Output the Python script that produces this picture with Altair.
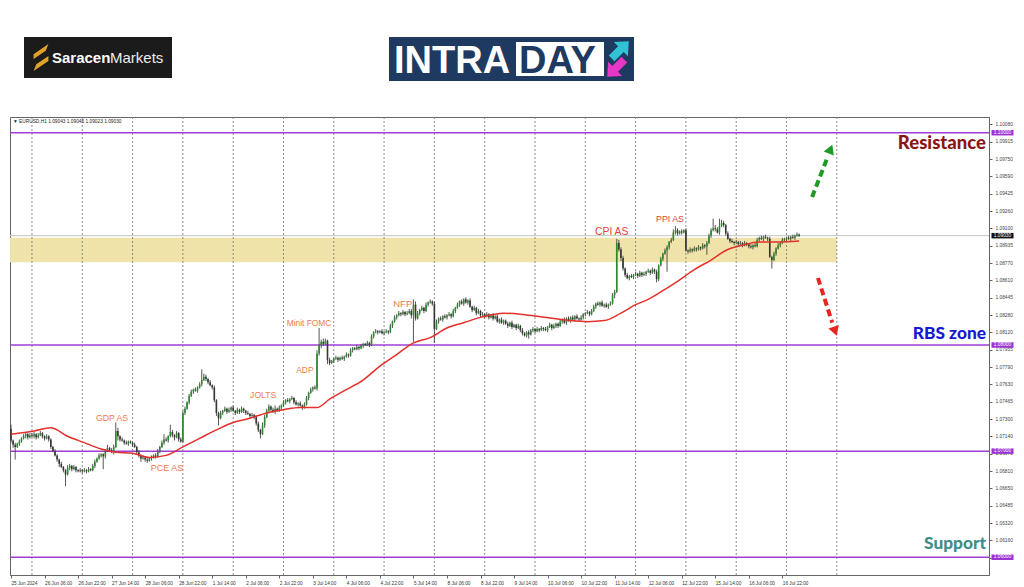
import json
import altair as alt
import pandas as pd

# ---------------- candle data: closes in pips above 1.06000 (H1 bars) ----------------
first_open = 121
close_d00 = [110, 106, 104, 107, 109, 112, 114, 116, 113, 115]
close_d01 = [114, 116, 113, 115, 117, 114, 112, 114, 111, 104, 100, 96, 92, 88, 85, 82, 78, 84, 86, 83, 85, 82, 81, 82]
close_d02 = [81, 82, 81, 83, 82, 86, 90, 93, 96, 97, 95, 100, 103, 101, 99, 104, 119, 114, 111, 110, 108, 107, 109, 108]
close_d03 = [106, 104, 99, 96, 93, 94, 92, 91, 93, 94, 96, 95, 100, 104, 108, 111, 110, 114, 118, 115, 113, 117, 111, 109]
close_d04 = [136, 140, 146, 152, 156, 158, 157, 160, 163, 167, 170, 168, 165, 162, 160, 148, 136, 131, 136, 138, 140, 137, 139, 141]
close_d05 = [138, 136, 139, 137, 140, 138, 136, 135, 133, 134, 132, 126, 120, 116, 124, 132, 138, 142, 139, 137, 140, 138, 141, 143]
close_d06 = [146, 148, 147, 149, 150, 146, 144, 145, 143, 141, 144, 150, 155, 158, 160, 159, 192, 200, 203, 201, 204, 186, 183, 185]
close_d07 = [187, 188, 186, 188, 187, 189, 191, 190, 195, 197, 196, 198, 197, 199, 201, 200, 202, 200, 208, 212, 213, 212, 213, 211]
close_d08 = [212, 213, 212, 218, 222, 226, 228, 230, 229, 231, 229, 230, 232, 228, 238, 225, 230, 233, 235, 232, 238, 240, 241, 239]
close_d09 = [215, 222, 225, 224, 227, 226, 228, 229, 227, 232, 235, 238, 241, 239, 243, 240, 242, 236, 233, 235, 230, 232, 228, 229]
close_d10 = [227, 229, 226, 228, 225, 227, 222, 224, 221, 223, 220, 218, 221, 217, 219, 216, 218, 214, 211, 209, 212, 210, 214, 215]
close_d11 = [213, 215, 214, 216, 215, 214, 217, 219, 216, 218, 220, 218, 222, 224, 221, 225, 223, 226, 224, 227, 225, 224, 226, 229]
close_d12 = [230, 231, 229, 232, 236, 239, 238, 240, 237, 238, 236, 238, 239, 247, 250, 296, 290, 282, 272, 266, 263, 265, 264, 266]
close_d13 = [267, 265, 268, 266, 267, 269, 270, 268, 271, 269, 262, 275, 281, 286, 289, 292, 297, 299, 306, 308, 305, 307, 306, 308]
close_d14 = [289, 288, 290, 289, 291, 290, 292, 291, 294, 293, 296, 303, 308, 310, 309, 306, 312, 315, 313, 305, 300, 298, 297, 296]
close_d15 = [297, 295, 296, 294, 296, 295, 293, 292, 294, 293, 299, 301, 300, 302, 301, 300, 283, 280, 286, 291, 294, 296, 299, 300]
close_d16 = [301, 300, 302, 301, 303, 304, 303]

# upper / lower wick lengths in pips
hi_d00 = [4, 1, 2, 1, 2, 1, 2, 2, 1, 2]
lo_d00 = [2, 3, 12, 1, 2, 1, 1, 2, 2, 1]
hi_d01 = [2, 2, 1, 2, 2, 1, 1, 2, 1, 1, 1, 2, 1, 1, 2, 1, 1, 3, 2, 1, 2, 1, 1, 2]
lo_d01 = [1, 2, 2, 1, 1, 2, 2, 1, 2, 2, 1, 1, 2, 3, 1, 2, 11, 1, 2, 2, 1, 2, 1, 1]
hi_d02 = [1, 2, 1, 2, 1, 2, 2, 1, 2, 1, 1, 2, 3, 1, 2, 2, 8, 3, 1, 2, 1, 2, 1, 1]
lo_d02 = [2, 1, 2, 1, 1, 1, 2, 1, 1, 2, 12, 2, 1, 2, 1, 2, 1, 4, 2, 1, 2, 1, 2, 1]
hi_d03 = [1, 2, 1, 2, 1, 2, 1, 2, 1, 2, 1, 2, 2, 1, 2, 5, 2, 1, 7, 2, 1, 2, 1, 2]
lo_d03 = [2, 1, 2, 2, 3, 1, 2, 2, 1, 2, 1, 2, 1, 2, 1, 2, 1, 2, 1, 2, 3, 1, 2, 1]
hi_d04 = [2, 2, 1, 2, 2, 1, 2, 1, 2, 10, 3, 2, 1, 2, 1, 2, 1, 1, 2, 1, 2, 1, 2, 1]
lo_d04 = [1, 2, 1, 2, 1, 2, 1, 2, 1, 2, 1, 2, 2, 1, 2, 2, 3, 7, 1, 2, 1, 2, 1, 2]
hi_d05 = [2, 1, 2, 1, 2, 1, 1, 2, 1, 2, 1, 1, 2, 1, 3, 2, 2, 2, 1, 2, 3, 1, 2, 1]
lo_d05 = [1, 2, 1, 2, 1, 2, 2, 1, 2, 1, 2, 2, 2, 4, 1, 2, 1, 1, 2, 1, 2, 1, 1, 2]
hi_d06 = [2, 1, 2, 1, 2, 1, 2, 1, 2, 1, 2, 2, 1, 2, 1, 2, 3, 16, 2, 3, 2, 1, 2, 1]
lo_d06 = [1, 2, 1, 2, 1, 2, 1, 2, 1, 2, 1, 1, 2, 1, 2, 1, 2, 2, 3, 2, 1, 4, 2, 1]
hi_d07 = [1, 2, 1, 1, 2, 1, 2, 1, 2, 1, 1, 2, 1, 2, 1, 1, 2, 1, 2, 1, 2, 1, 1, 2]
lo_d07 = [2, 1, 2, 1, 1, 2, 1, 2, 1, 2, 1, 1, 2, 1, 2, 1, 1, 2, 1, 2, 1, 2, 1, 1]
hi_d08 = [1, 2, 1, 2, 1, 2, 1, 2, 1, 2, 1, 2, 2, 2, 5, 3, 2, 1, 2, 1, 2, 1, 2, 1]
lo_d08 = [2, 1, 2, 1, 2, 1, 2, 1, 2, 1, 2, 1, 1, 3, 25, 2, 1, 2, 1, 2, 1, 2, 1, 2]
hi_d09 = [2, 2, 1, 2, 1, 2, 1, 2, 1, 2, 1, 2, 1, 2, 1, 2, 1, 2, 1, 2, 1, 2, 1, 2]
lo_d09 = [13, 1, 2, 1, 2, 1, 2, 1, 2, 1, 2, 1, 2, 1, 2, 1, 2, 1, 2, 1, 2, 1, 2, 1]
hi_d10 = [1, 2, 1, 1, 2, 1, 2, 1, 2, 1, 1, 2, 1, 2, 1, 1, 2, 1, 2, 1, 1, 2, 1, 2]
lo_d10 = [2, 1, 2, 1, 2, 1, 1, 2, 1, 2, 1, 2, 1, 2, 1, 2, 1, 2, 2, 1, 2, 4, 1, 2]
hi_d11 = [1, 2, 1, 2, 1, 2, 1, 2, 1, 2, 1, 1, 2, 1, 2, 1, 2, 1, 2, 1, 2, 1, 2, 1]
lo_d11 = [2, 1, 2, 1, 2, 1, 2, 1, 2, 1, 2, 2, 1, 2, 1, 2, 1, 2, 1, 2, 1, 2, 1, 2]
hi_d12 = [1, 2, 1, 2, 2, 1, 2, 1, 2, 1, 2, 1, 2, 2, 2, 4, 3, 2, 2, 1, 2, 1, 2, 1]
lo_d12 = [2, 1, 2, 1, 1, 2, 1, 2, 1, 2, 1, 2, 1, 1, 3, 1, 2, 3, 2, 2, 1, 2, 1, 2]
hi_d13 = [2, 1, 2, 1, 2, 1, 2, 1, 2, 1, 2, 1, 2, 1, 2, 2, 1, 2, 3, 4, 2, 1, 2, 1]
lo_d13 = [1, 2, 1, 2, 1, 2, 1, 2, 1, 2, 3, 2, 1, 2, 1, 20, 2, 1, 1, 2, 2, 1, 2, 1]
hi_d14 = [2, 1, 2, 1, 2, 1, 2, 1, 2, 1, 2, 2, 2, 9, 3, 2, 7, 3, 2, 1, 2, 1, 2, 1]
lo_d14 = [1, 2, 1, 2, 1, 2, 1, 2, 1, 2, 8, 1, 2, 1, 2, 1, 2, 1, 2, 2, 1, 2, 1, 2]
hi_d15 = [2, 1, 2, 1, 2, 1, 1, 2, 1, 2, 2, 1, 2, 1, 2, 1, 2, 1, 2, 1, 2, 1, 2, 1]
lo_d15 = [1, 2, 1, 2, 1, 2, 2, 1, 2, 1, 1, 2, 1, 2, 1, 2, 1, 8, 1, 2, 1, 2, 1, 2]
hi_d16 = [1, 2, 1, 2, 1, 2, 1]
lo_d16 = [2, 1, 2, 1, 2, 1, 1]

# moving average
ma_index = [0, 11, 19, 27, 35, 43, 50, 58, 66, 74, 82, 90, 98, 106, 114, 122, 130, 138, 146, 152,
            160, 168, 176, 184, 192, 200, 208, 216, 224, 235, 243, 251, 259, 267, 275, 283, 291, 298, 304, 310,
            318, 326, 334, 341, 349, 357, 365, 376]
ma_price = [1.0716, 1.0719, 1.0722, 1.0714, 1.0708, 1.0702, 1.0699, 1.0698, 1.0694, 1.0696,
            1.0704, 1.0712, 1.0720, 1.0727, 1.0731, 1.0736, 1.0739, 1.0741, 1.0741, 1.0749,
            1.0758, 1.0767, 1.0780, 1.0791, 1.0802, 1.0807, 1.0816, 1.0821, 1.0826, 1.0830,
            1.0829, 1.0827, 1.0825, 1.0823, 1.0822, 1.0823, 1.0830, 1.0838, 1.0843, 1.0850,
            1.0860, 1.0871, 1.0880, 1.0889, 1.0894, 1.0897, 1.0897, 1.0898]

# axes
x_tick_index = [0, 16, 32, 48, 64, 80, 96, 112, 128, 144, 160, 176, 192, 208, 224, 240, 256, 272,
                288, 304, 320, 336, 352, 368]
x_tick_labels = ["25 Jun 2024", "26 Jun 06:00", "26 Jun 22:00", "27 Jun 14:00", "28 Jun 06:00",
                 "28 Jun 22:00", "1 Jul 14:00", "2 Jul 06:00", "2 Jul 22:00", "3 Jul 14:00",
                 "4 Jul 06:00", "4 Jul 22:00", "5 Jul 14:00", "8 Jul 06:00", "8 Jul 22:00",
                 "9 Jul 14:00", "10 Jul 06:00", "10 Jul 22:00", "11 Jul 14:00", "12 Jul 06:00",
                 "12 Jul 22:00", "15 Jul 14:00", "16 Jul 06:00", "16 Jul 22:00"]
y_tick_values = [1.10080, 1.09915, 1.09750, 1.09590, 1.09425, 1.09260, 1.09100, 1.08935, 1.08770,
                 1.08610, 1.08445, 1.08280, 1.08120, 1.07955, 1.07790, 1.07630, 1.07465, 1.07300,
                 1.07140, 1.06975, 1.06810, 1.06650, 1.06485, 1.06320, 1.06160, 1.05995, 1.05830]
separator_index = [10, 34, 58, 82, 106, 130, 154, 178, 202, 226, 250, 274, 298, 322, 346, 370, 394]

# levels and zone
level_prices = [1.10000, 1.08000, 1.07000, 1.06000]
current_price = 1.09030
zone_low, zone_high = 1.0878, 1.0901
zone_start, zone_end = -0.48, 394

box_prices = [1.10000, 1.09030, 1.08000, 1.07000, 1.06000]
box_colors = ["#9b34d2", "#111111", "#9b34d2", "#9b34d2", "#9b34d2"]

event_text = ["GDP AS", "PCE AS", "JOLTS", "ADP", "Minit FOMC", "NFP", "CPI AS", "PPI AS"]
event_index = [48.2, 74.4, 120.3, 140.2, 142.2, 186.9, 286.6, 314.4]
event_price = [1.07312, 1.06841, 1.07529, 1.07765, 1.08207, 1.08386, 1.09065, 1.09188]
event_color = ["#ef7b4c"] * 6 + ["#e4403c", "#e4403c"]
event_size = [8.6, 9.0, 8.6, 8.4, 8.4, 9.6, 10.4, 8.8]

zone_labels = ["Resistance", "RBS zone", "Support"]
zone_label_price = [1.09903, 1.08104, 1.06126]
zone_label_color = ["#8a1616", "#1717d6", "#3f8d8d"]
zone_label_size = [18.5, 17.3, 17.3]

arrow_x0 = [382.2, 385.0]
arrow_p0 = [1.09394, 1.08631]
arrow_x1 = [389.6, 391.8]
arrow_p1 = [1.09770, 1.08210]
arrow_color = ["#1f9a24", "#e8261f"]
head_x = [391.0, 393.2]
head_p = [1.09845, 1.08130]

# ---------------- build tables ----------------
closes = sum([close_d00, close_d01, close_d02, close_d03, close_d04, close_d05, close_d06, close_d07,
              close_d08, close_d09, close_d10, close_d11, close_d12, close_d13, close_d14, close_d15,
              close_d16], [])
his = sum([hi_d00, hi_d01, hi_d02, hi_d03, hi_d04, hi_d05, hi_d06, hi_d07, hi_d08, hi_d09, hi_d10,
           hi_d11, hi_d12, hi_d13, hi_d14, hi_d15, hi_d16], [])
los = sum([lo_d00, lo_d01, lo_d02, lo_d03, lo_d04, lo_d05, lo_d06, lo_d07, lo_d08, lo_d09, lo_d10,
           lo_d11, lo_d12, lo_d13, lo_d14, lo_d15, lo_d16], [])

rows = []
prev = first_open
for i, c in enumerate(closes):
    o = prev
    rows.append({
        "i": i,
        "open": 1.06 + o / 10000,
        "close": 1.06 + c / 10000,
        "high": 1.06 + (max(o, c) + his[i]) / 10000,
        "low": 1.06 + (min(o, c) - los[i]) / 10000,
        "dir": "up" if c >= o else "down",
    })
    prev = c
candles = pd.DataFrame(rows)
ma = pd.DataFrame({"i": ma_index, "p": ma_price})
seps = pd.DataFrame({"i": separator_index})
levels = pd.DataFrame({"p": level_prices})
cur = pd.DataFrame({"p": [current_price]})
zone = pd.DataFrame({"x0": [zone_start], "x1": [zone_end], "p0": [zone_low], "p1": [zone_high]})
boxes = pd.DataFrame({"p": box_prices, "c": box_colors, "t": [f"{v:.5f}" for v in box_prices]})
events = pd.DataFrame({"i": event_index, "p": event_price, "t": event_text, "c": event_color, "s": event_size})
zlab = pd.DataFrame({"p": zone_label_price, "t": zone_labels, "c": zone_label_color, "s": zone_label_size})
arrows = pd.DataFrame({"x0": arrow_x0, "p0": arrow_p0, "x1": arrow_x1, "p1": arrow_p1, "c": arrow_color})
one = pd.DataFrame({"a": [0]})

FONT = "Liberation Sans"
XS = alt.Scale(domain=[-0.48, 466.6], nice=False, zero=False)
YS = alt.Scale(domain=[1.05833, 1.10148], nice=False, zero=False)

X_AXIS = alt.Axis(values=x_tick_index, labelExpr=json.dumps(x_tick_labels) + "[round(datum.value / 16)]",
                  labelAlign="left", labelBaseline="top", labelFontSize=4.7, labelColor="#333333",
                  labelFont=FONT, labelPadding=2, tickSize=3, tickColor="#666666", domainColor="#666666",
                  grid=False, title=None, labelOverlap=False, labelFlush=False, labelBound=False)
Y_AXIS = alt.Axis(orient="right", values=y_tick_values, labelExpr="format(datum.value, '.5f')",
                  labelFontSize=4.8, labelColor="#444444", labelFont=FONT, labelPadding=3, tickSize=3,
                  tickColor="#666666", domainColor="#666666", grid=False, title=None,
                  labelOverlap=False, labelFlush=False, labelBound=False)


def X(f):
    return alt.X(f, type="quantitative", scale=XS, axis=X_AXIS, title=None)


def Y(f):
    return alt.Y(f, type="quantitative", scale=YS, axis=Y_AXIS, title=None)


zone_layer = alt.Chart(zone).mark_rect(color="#efe3a9").encode(
    x=X("x0"), x2=alt.X2("x1"), y=Y("p0"), y2=alt.Y2("p1"))
sep_layer = alt.Chart(seps).mark_rule(color="#808080", strokeWidth=0.9, strokeDash=[2, 2]).encode(x=X("i"))
cur_layer = alt.Chart(cur).mark_rule(color="#c4c4c4", strokeWidth=1).encode(y=Y("p"))
level_layer = alt.Chart(levels).mark_rule(color="#a03ed4", strokeWidth=1.5).encode(y=Y("p"))

wick_layer = alt.Chart(candles).mark_rule(color="#444444", strokeWidth=0.9).encode(
    x=X("i"), y=Y("low"), y2=alt.Y2("high"))
body_layer = alt.Chart(candles).mark_rule(strokeWidth=1.6).encode(
    x=X("i"), y=Y("open"), y2=alt.Y2("close"),
    color=alt.Color("dir:N", scale=alt.Scale(domain=["up", "down"], range=["#2a8a2a", "#363636"]), legend=None))
ma_layer = alt.Chart(ma).mark_line(color="#e3302a", strokeWidth=1.5, interpolate="monotone").encode(
    x=X("i"), y=Y("p"))

event_layer = alt.Chart(events).mark_text(font=FONT, baseline="middle", align="center").encode(
    x=X("i"), y=Y("p"), text="t:N", color=alt.Color("c:N", scale=None), size=alt.Size("s:Q", scale=None))

zlab_layer = alt.Chart(zlab).mark_text(font="Lato", fontWeight=900, align="right", baseline="middle").encode(
    x=alt.value(976), y=Y("p"), text="t:N", color=alt.Color("c:N", scale=None),
    size=alt.Size("s:Q", scale=None))

arrow_layer = alt.Chart(arrows).mark_rule(strokeWidth=4, strokeDash=[7, 4]).encode(
    x=X("x0"), x2=alt.X2("x1"), y=Y("p0"), y2=alt.Y2("p1"), color=alt.Color("c:N", scale=None))
head_up = alt.Chart(pd.DataFrame({"i": [head_x[0]], "p": [head_p[0]]})).mark_point(
    shape="triangle-up", filled=True, size=120, angle=22, color=arrow_color[0], opacity=1).encode(
    x=X("i"), y=Y("p"))
head_dn = alt.Chart(pd.DataFrame({"i": [head_x[1]], "p": [head_p[1]]})).mark_point(
    shape="triangle-down", filled=True, size=120, angle=341, color=arrow_color[1], opacity=1).encode(
    x=X("i"), y=Y("p"))

box_layer = alt.Chart(boxes).mark_point(
    shape="M-1,-0.25L1,-0.25L1,0.25L-1,0.25Z", size=484, filled=True, opacity=1).encode(
    x=alt.value(992.5), y=Y("p"), color=alt.Color("c:N", scale=None))
box_text = alt.Chart(boxes).mark_text(font=FONT, fontSize=4.8, color="white", align="center",
                                      baseline="middle").encode(x=alt.value(992.5), y=Y("p"), text="t:N")

header = alt.Chart(one).mark_text(text="\u25bc EURUSD,H1  1.09043 1.09045 1.09023 1.09030", font=FONT,
                                  fontSize=4.8, color="#222222", align="left", baseline="middle").encode(
    x=alt.value(3), y=alt.value(5))

# logos
sar_box = alt.Chart(one).mark_rect(color="#1b1b1b").encode(
    x=alt.value(14), x2=alt.value(162), y=alt.value(-80), y2=alt.value(-39))
sar_icon = alt.Chart(one).mark_point(
    shape="M0.55,-1L-0.55,-0.25L-0.55,0.12L0.35,-0.5Z M-0.55,1L0.55,0.25L0.55,-0.12L-0.35,0.5Z",
    size=729, filled=True, opacity=1, color="#e0a22a").encode(x=alt.value(31), y=alt.value(-59.5))
sar_t1 = alt.Chart(one).mark_text(text="Saracen", font=FONT, fontSize=15, fontWeight="bold", color="white",
                                  align="left", baseline="alphabetic").encode(x=alt.value(42), y=alt.value(-54))
sar_t2 = alt.Chart(one).mark_text(text="Markets", font=FONT, fontSize=15, color="#ececec",
                                  align="left", baseline="alphabetic").encode(x=alt.value(100), y=alt.value(-54))
intra_box = alt.Chart(one).mark_rect(color="#1f3a60").encode(
    x=alt.value(379), x2=alt.value(624), y=alt.value(-80), y2=alt.value(-36))
day_box = alt.Chart(one).mark_rect(color="white").encode(
    x=alt.value(506), x2=alt.value(594), y=alt.value(-75), y2=alt.value(-41))
intra_t = alt.Chart(one).mark_text(text="INTRA", font=FONT, fontSize=38, fontWeight="bold", color="white",
                                   align="left", baseline="alphabetic").encode(x=alt.value(384), y=alt.value(-44.5))
day_t = alt.Chart(one).mark_text(text="DAY", font=FONT, fontSize=38, fontWeight="bold", color="#1f3a60",
                                 align="left", baseline="alphabetic").encode(x=alt.value(509), y=alt.value(-44.5))
ARROW = "M0,-1L0.8,-0.1L0.32,-0.1L0.32,0.95L-0.32,0.95L-0.32,-0.1L-0.8,-0.1Z"
arr_up = alt.Chart(one).mark_point(shape=ARROW, size=620, angle=45, filled=True, opacity=1,
                                   color="#2fc3d5").encode(x=alt.value(610), y=alt.value(-67))
arr_dn = alt.Chart(one).mark_point(shape=ARROW, size=620, angle=225, filled=True, opacity=1,
                                   color="#e836c6").encode(x=alt.value(606), y=alt.value(-49))

chart = alt.layer(
    zone_layer, sep_layer, cur_layer, level_layer, wick_layer, body_layer, ma_layer,
    event_layer, zlab_layer, arrow_layer, head_up, head_dn, box_layer, box_text, header,
    sar_box, sar_icon, sar_t1, sar_t2, intra_box, day_box, intra_t, day_t, arr_up, arr_dn,
).properties(
    width=979, height=458,
    padding={"left": 2, "top": 109, "right": 27, "bottom": 12},
    autosize=alt.AutoSizeParams(type="none"),
    background="white",
).configure_view(stroke="#666666", strokeWidth=1)

chart.save("out.html", embed_options={"renderer": "svg", "actions": False})
